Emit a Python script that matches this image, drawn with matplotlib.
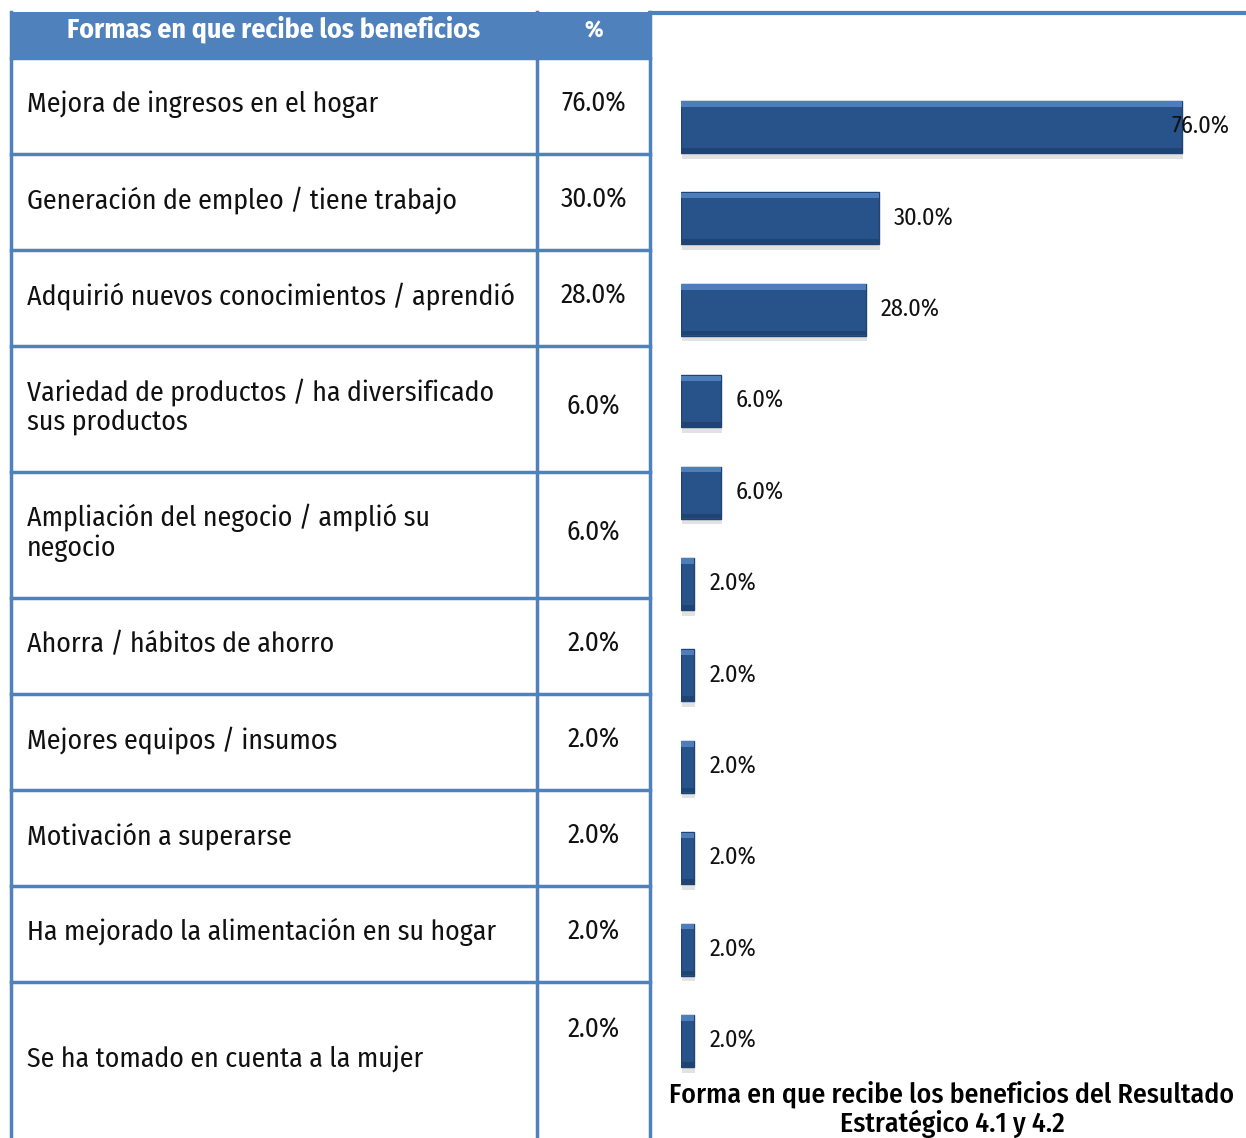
import matplotlib.pyplot as plt
import numpy as np

# datos de la tabla
categorias = [
    "Mejora de ingresos en el hogar",
    "Generación de empleo / tiene trabajo",
    "Adquirió nuevos conocimientos / aprendió",
    "Variedad de productos / ha diversificado\nsus productos",
    "Ampliación del negocio / amplió su\nnegocio",
    "Ahorra / hábitos de ahorro",
    "Mejores equipos / insumos",
    "Motivación a superarse",
    "Ha mejorado la alimentación en su hogar",
    "Se ha tomado en cuenta a la mujer",
]
valores = [76.0, 30.0, 28.0, 6.0, 6.0, 2.0, 2.0, 2.0, 2.0, 2.0]
etiquetas = ["%.1f%%" % v for v in valores]

# datos del grafico (tiene una barra mas de 2.0%)
valores_graf = [76.0, 30.0, 28.0, 6.0, 6.0, 2.0, 2.0, 2.0, 2.0, 2.0, 2.0]
etiquetas_graf = ["%.1f%%" % v for v in valores_graf]

W, H = 1246, 1138
azul_tabla = '#4F81BD'
azul_barra = '#27528A'
fuente = ['Fira Sans Condensed', 'Roboto Condensed', 'DejaVu Sans']

fig = plt.figure(figsize=(W / 100, H / 100), dpi=100)

# ---- tabla (coordenadas en pixeles) ----
bg = fig.add_axes([0, 0, 1, 1])
bg.set_xlim(0, W)
bg.set_ylim(H, 0)
bg.axis('off')

filas = [58, 154, 250, 346, 472, 598, 694, 790, 886, 982, 1140]
x_izq, x_col, x_der = 11, 537, 650

bg.fill_between([x_izq, x_der], [12, 12], [58, 58], color=azul_tabla, lw=0)
bg.plot([x_der, W], [13, 13], color=azul_tabla, lw=3)
for y in filas[:-1]:
    bg.plot([x_izq, x_der], [y, y], color=azul_tabla, lw=2.5)
for x in [x_izq, x_col, x_der]:
    bg.plot([x, x], [12, H], color=azul_tabla, lw=2.5)

bg.text((x_izq + x_col) / 2, 29, "Formas en que recibe los beneficios", color='white',
        fontsize=20, fontweight='bold', ha='center', va='center', family=fuente)
bg.text((x_col + x_der) / 2, 31, "%", color='white',
        fontsize=17, fontweight='bold', ha='center', va='center', family=fuente)

for i, (cat, et) in enumerate(zip(categorias, etiquetas)):
    yc = (filas[i] + filas[i + 1]) / 2
    bg.text(27, yc - 2, cat, fontsize=20, ha='left', va='center',
            family=fuente, linespacing=1.12, color='#111111')
    yp = yc - 2 if i < len(categorias) - 1 else 1030
    bg.text((x_col + x_der) / 2, yp, et, fontsize=19.5, ha='center', va='center',
            family=fuente, color='#111111')

# ---- grafico de barras ----
escala = 6.59  # px por punto porcentual
paso = 91.4
y0, y1 = 127 - paso / 2, 1041 + paso / 2
ax = fig.add_axes([681 / W, 1 - y1 / H, (W - 681) / W, (y1 - y0) / H])
ax.patch.set_alpha(0)
pos = np.arange(len(valores_graf))
alto = 0.57

# sombra
ax.barh(pos + 0.06, valores_graf, height=alto, left=0.15, color='#cfcfcf', alpha=0.6, lw=0)
ax.barh(pos, valores_graf, height=alto, color=azul_barra, edgecolor='#1f4372', lw=1)
ax.barh(pos - alto / 2 + 0.035, valores_graf, height=0.06, color='#4d7dbb', lw=0)
ax.barh(pos + alto / 2 - 0.03, valores_graf, height=0.05, color='#1f4473', lw=0)

ax.set_xlim(0, (W - 681) / escala)
ax.set_ylim(len(valores_graf) - 0.5, -0.5)
ax.axis('off')

for p, v, et in zip(pos, valores_graf, etiquetas_graf):
    if v == max(valores_graf):
        ax.text(v - 1.5, p, et, fontsize=17.5, ha='left', va='center',
                family=fuente, color='#111111')
    else:
        ax.text(v + 2.3, p, et, fontsize=17.5, ha='left', va='center',
                family=fuente, color='#111111')

bg.text(952, 1109, "Forma en que recibe los beneficios del Resultado\nEstratégico 4.1 y 4.2",
        fontsize=20, fontweight='medium', ha='center', va='center',
        family=fuente, linespacing=1.05)

fig.savefig('out.png', dpi=100)
